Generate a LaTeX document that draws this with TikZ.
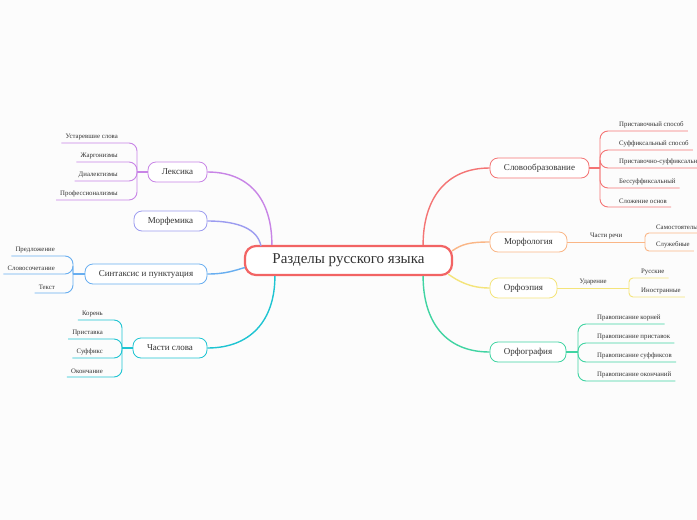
\documentclass[tikz,border=0pt]{standalone}
\usepackage{fontspec}
\setmainfont{Liberation Serif}
\usetikzlibrary{calc}
\definecolor{bg}{HTML}{FCFCFC}
\definecolor{txt}{HTML}{333333}
\definecolor{cen}{HTML}{F26464}
\definecolor{clex}{HTML}{C884E6}
\definecolor{cmfm}{HTML}{9C9CF0}
\definecolor{csin}{HTML}{68AEF0}
\definecolor{cchs}{HTML}{1EC4D2}
\definecolor{csob}{HTML}{F47474}
\definecolor{cmor}{HTML}{FAB686}
\definecolor{corp}{HTML}{F4E47A}
\definecolor{corf}{HTML}{40D4A2}
\begin{document}
\begin{tikzpicture}[x=1pt,y=-1pt,
  mainbox/.style={draw=#1, fill=white, rounded corners=8pt, line width=0.8pt, minimum height=20pt, inner sep=0pt, text=txt, font=\fontsize{9}{10}\selectfont},
  leaf/.style={inner sep=0pt, text=txt, font=\fontsize{6.8}{7.5}\selectfont},
  conn/.style={draw=#1, line width=1.4pt},
  lline/.style={draw=#1, line width=0.9pt, rounded corners=8pt},
  bline/.style={draw=#1, line width=0.9pt, rounded corners=4pt}]
\useasboundingbox[fill=bg] (0,0) rectangle (697,520);

% centre
\node[draw=cen, line width=2.2pt, fill=white, rounded corners=11pt, minimum width=207pt, minimum height=29pt, inner sep=0pt, text=txt, font=\fontsize{15}{17}\selectfont] (c) at (348.5,260.5) {Разделы русского языка};

% main nodes
\node[mainbox=clex, minimum width=59pt] (lex) at (177.5,172) {Лексика};
\node[mainbox=cmfm, minimum width=73pt] (mfm) at (170.5,221) {Морфемика};
\node[mainbox=csin, minimum width=122pt] (sin) at (146,274) {Синтаксис и пунктуация};
\node[mainbox=cchs, minimum width=74pt] (chs) at (170,348) {Части слова};
\node[mainbox=csob, minimum width=99pt] (sob) at (539.5,168) {Словообразование};
\node[mainbox=cmor, minimum width=77pt] (mor) at (528.5,242) {Морфология};
\node[mainbox=corp, minimum width=67pt] (orp) at (523.5,288) {Орфоэпия};
\node[mainbox=corf, minimum width=76pt] (orf) at (528,352) {Орфография};

% centre connectors
\draw[conn=clex] (lex.east) .. controls (250,172) and ($(c.north west)+(28,-45)$) .. ($(c.north west)+(28,0)$);
\draw[conn=cmfm] (mfm.east) .. controls (240,221) and ($(c.north west)+(14,-15)$) .. ($(c.north west)+(17,1)$);
\draw[conn=csin] (sin.east) .. controls (225,274) and (233,271) .. ($(c.west)+(1,7)$);
\draw[conn=cchs] (chs.east) .. controls (250,348) and ($(c.south west)+(31,45)$) .. ($(c.south west)+(31,0)$);
\draw[conn=csob] (sob.west) .. controls (445,168) and ($(c.north east)+(-30,-45)$) .. ($(c.north east)+(-30,0)$);
\draw[conn=cmor] (mor.west) .. controls (470,242) and (462,244) .. ($(c.north east)+(-1,6)$);
\draw[conn=corp] (orp.west) .. controls (470,288) and (458,281) .. ($(c.south east)+(-5,-2)$);
\draw[conn=corf] (orf.west) .. controls (445,352) and ($(c.south east)+(-30,45)$) .. ($(c.south east)+(-30,0)$);

% Лексика leaves
\coordinate (lexb) at (137,172);
\draw[conn=clex, line width=1.2pt] (lex.west) -- (lexb);
\node[leaf, anchor=south east] (lx1) at (118,140) {Устаревшие слова};
\node[leaf, anchor=south east] (lx2) at (118,159) {Жаргонизмы};
\node[leaf, anchor=south east] (lx3) at (118,178) {Диалектизмы};
\node[leaf, anchor=south east] (lx4) at (118,197) {Профессионализмы};
\foreach \n in {lx1,lx2,lx3,lx4}
  \draw[lline=clex] ($(\n.south west)+(-4,3)$) -| (lexb);

% Синтаксис leaves
\coordinate (sinb) at (73,274);
\draw[conn=csin, line width=1.2pt] (sin.west) -- (sinb);
\node[leaf, anchor=south east] (sx1) at (55,253) {Предложение};
\node[leaf, anchor=south east] (sx2) at (55,271) {Словосочетание};
\node[leaf, anchor=south east] (sx3) at (55,290) {Текст};
\foreach \n in {sx1,sx2,sx3}
  \draw[lline=csin] ($(\n.south west)+(-4,3)$) -| (sinb);

% Части слова leaves
\coordinate (chsb) at (122,348);
\draw[conn=cchs, line width=1.2pt] (chs.west) -- (chsb);
\node[leaf, anchor=south east] (cx1) at (103,317) {Корень};
\node[leaf, anchor=south east] (cx2) at (103,336) {Приставка};
\node[leaf, anchor=south east] (cx3) at (103,355) {Суффикс};
\node[leaf, anchor=south east] (cx4) at (103,374) {Окончание};
\foreach \n in {cx1,cx2,cx3,cx4}
  \draw[lline=cchs] ($(\n.south west)+(-4,3)$) -| (chsb);

% Словообразование leaves
\coordinate (sobb) at (600,168);
\draw[conn=csob, line width=1.2pt] (sob.east) -- (sobb);
\node[leaf, anchor=south west] (ob1) at (619,128) {Приставочный способ};
\node[leaf, anchor=south west] (ob2) at (619,147) {Суффиксальный способ};
\node[leaf, anchor=south west] (ob3) at (619,165) {Приставочно-суффиксальный};
\node[leaf, anchor=south west] (ob4) at (619,185) {Бессуффиксальный};
\node[leaf, anchor=south west] (ob5) at (619,204) {Сложение основ};
\foreach \n in {ob1,ob2,ob3,ob4,ob5}
  \draw[lline=csob] (sobb) |- ($(\n.south east)+(4,3)$);

% Морфология
\coordinate (morb) at (645,242);
\draw[conn=cmor, line width=1pt] (mor.east) -- node[leaf, above=3pt] (mlab) {Части речи} (morb);
\node[leaf, anchor=south west] (mr1) at (656,230) {Самостоятельные};
\node[leaf, anchor=south west] (mr2) at (656,248) {Служебные};
\foreach \n in {mr1,mr2}
  \draw[bline=cmor] (morb) |- ($(\n.south east)+(4,3)$);

% Орфоэпия
\coordinate (orpb) at (629,288);
\draw[conn=corp, line width=1pt] (orp.east) -- node[leaf, above=3pt] (olab) {Ударение} (orpb);
\node[leaf, anchor=south west] (op1) at (641,275) {Русские};
\node[leaf, anchor=south west] (op2) at (641,294) {Иностранные};
\foreach \n in {op1,op2}
  \draw[bline=corp] (orpb) |- ($(\n.south east)+(4,3)$);

% Орфография leaves
\coordinate (orfb) at (578,352);
\draw[conn=corf, line width=1.2pt] (orf.east) -- (orfb);
\node[leaf, anchor=south west] (of1) at (597,321) {Правописание корней};
\node[leaf, anchor=south west] (of2) at (597,340) {Правописание приставок};
\node[leaf, anchor=south west] (of3) at (597,359) {Правописание суффиксов};
\node[leaf, anchor=south west] (of4) at (597,378) {Правописание окончаний};
\foreach \n in {of1,of2,of3,of4}
  \draw[lline=corf] (orfb) |- ($(\n.south east)+(4,3)$);
\end{tikzpicture}
\end{document}
